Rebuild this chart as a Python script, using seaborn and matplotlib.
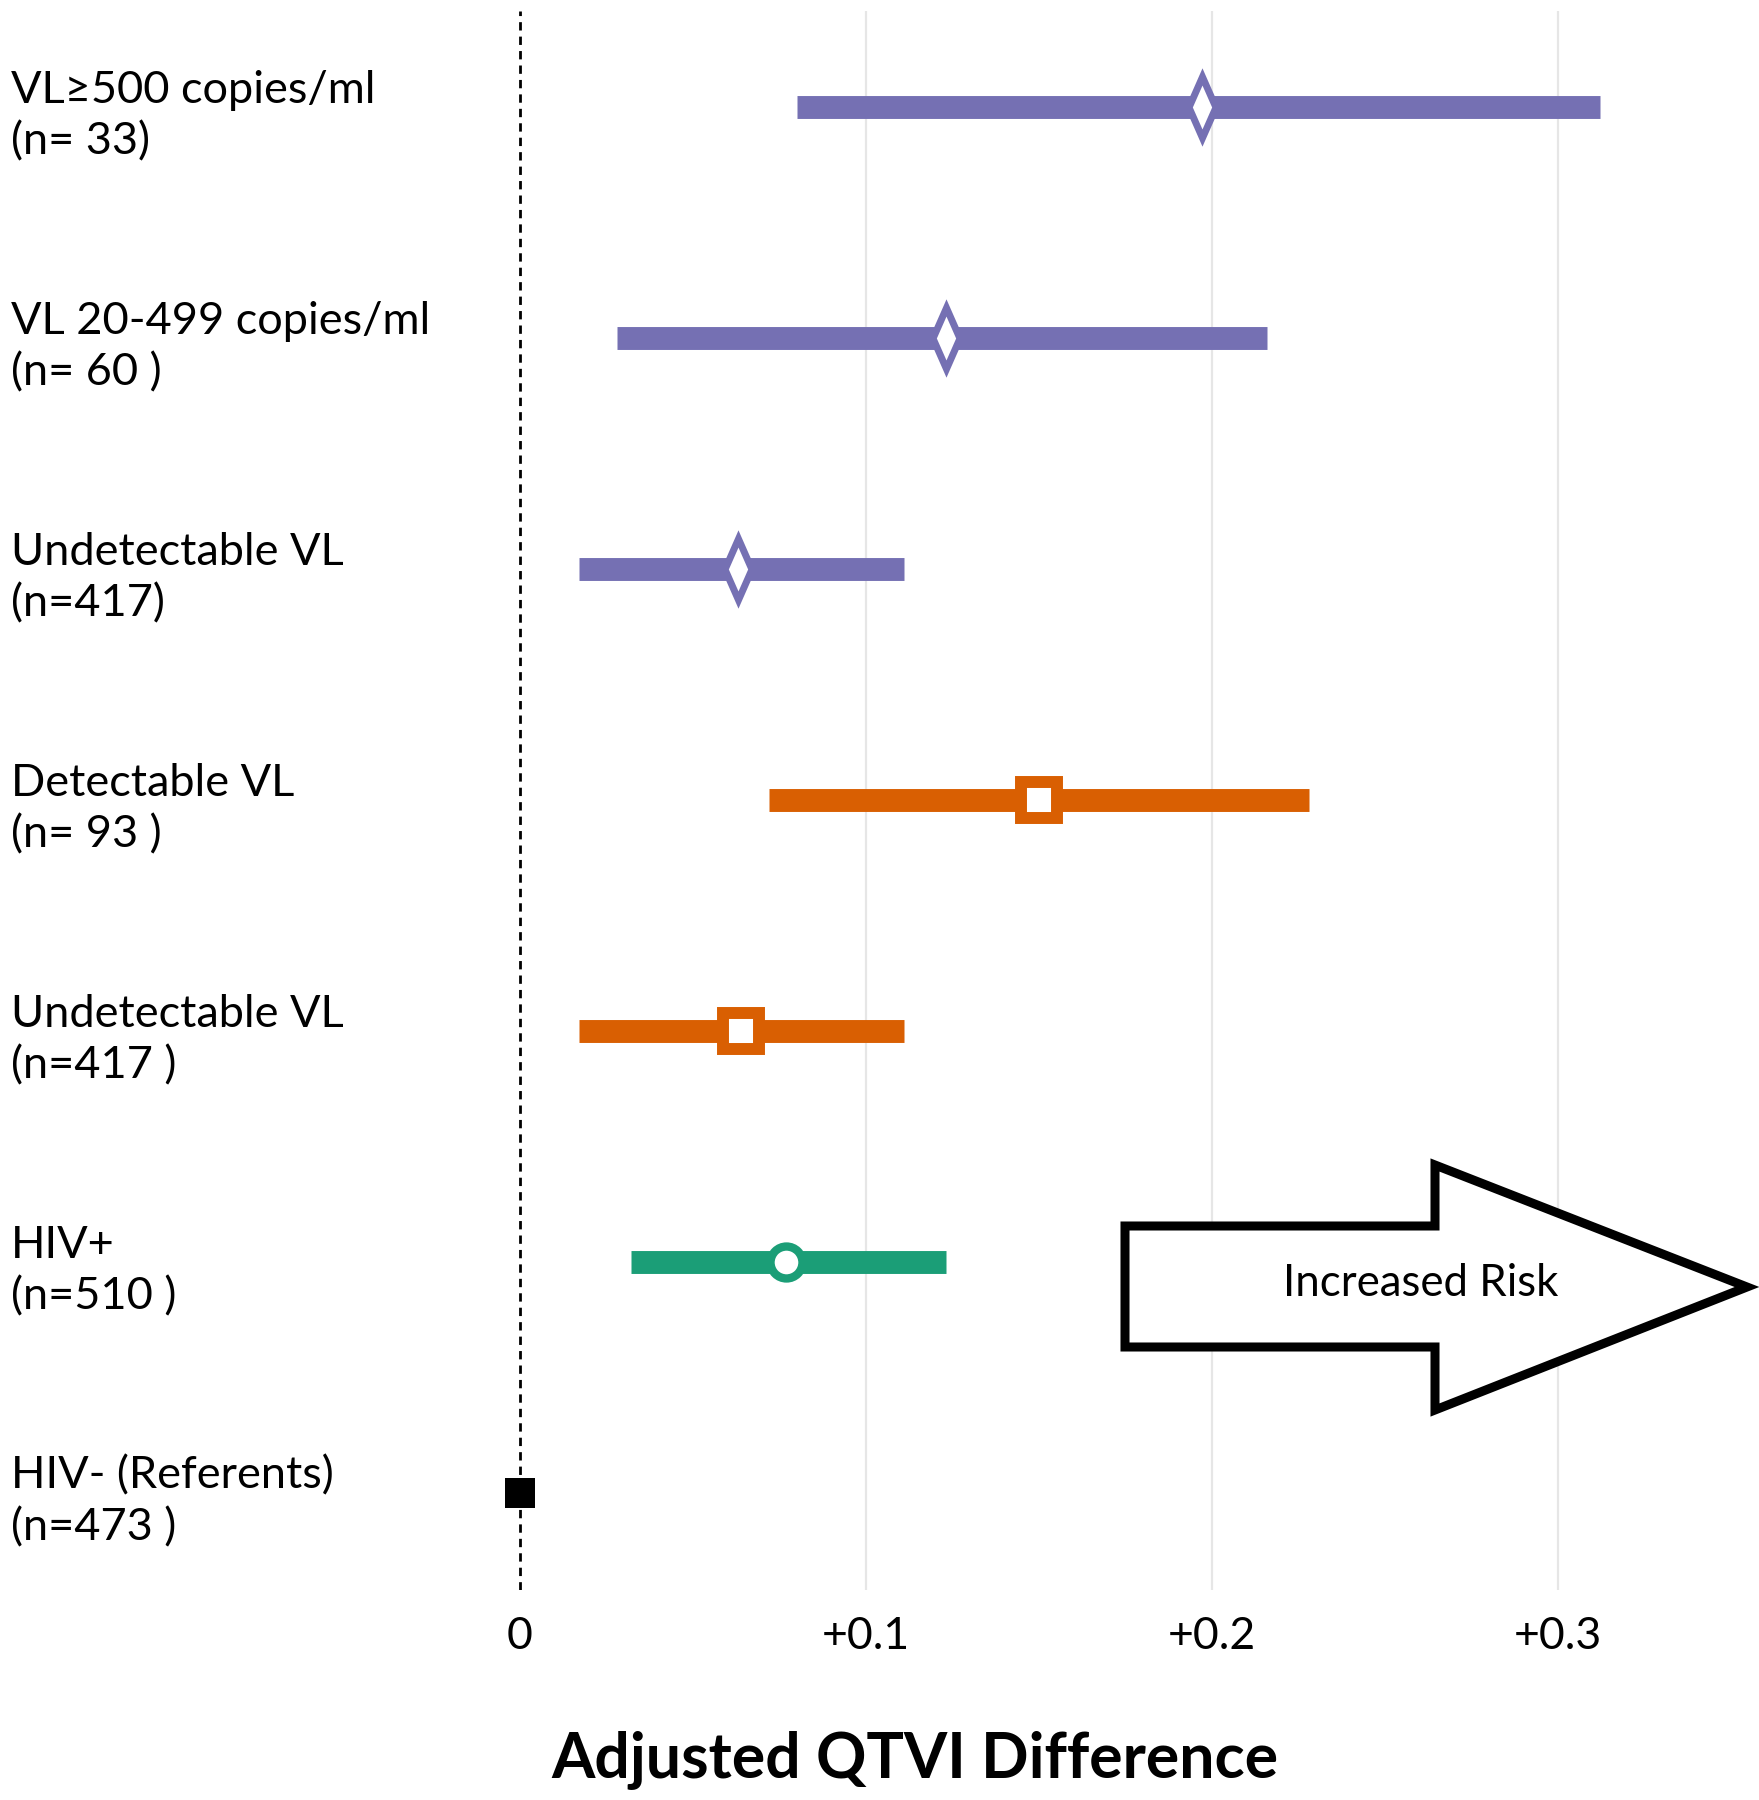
import numpy as np
import pandas as pd
import matplotlib
matplotlib.use("Agg")
import matplotlib.pyplot as plt
import seaborn as sns
from matplotlib.patches import Polygon
from matplotlib.path import Path
from matplotlib.transforms import blended_transform_factory, offset_copy

# ---------------- data ----------------
groups = [
    "VL\u2265500 copies/ml\n(n= 33)",
    "VL 20-499 copies/ml\n(n= 60 )",
    "Undetectable VL\n(n=417)",
    "Detectable VL\n(n= 93 )",
    "Undetectable VL\n(n=417 )",
    "HIV+\n(n=510 )",
    "HIV- (Referents)\n(n=473 )",
]
estimate = [0.197, 0.123, 0.063, 0.150, 0.064, 0.077, 0.0]
ci_low = [0.080, 0.028, 0.017, 0.072, 0.017, 0.032, np.nan]
ci_high = [0.312, 0.216, 0.111, 0.228, 0.111, 0.123, np.nan]
comparison = ["viral load", "viral load", "viral load",
              "detectability", "detectability", "HIV status", "referent"]
xticks = [0.0, 0.1, 0.2, 0.3]
xtick_labels = ["0", "+0.1", "+0.2", "+0.3"]
xlabel = "Adjusted QTVI Difference"
arrow_text = "Increased Risk"

df = pd.DataFrame({
    "group": groups,
    "pos": np.arange(len(groups)),
    "est": estimate,
    "lo": ci_low,
    "hi": ci_high,
    "comp": comparison,
})

# ---------------- style ----------------
sns.set_theme(style="white")
plt.rcParams["font.family"] = ["Lato", "DejaVu Sans"]

pal = sns.color_palette("Dark2")
colors = {"viral load": pal[2], "detectability": pal[1],
          "HIV status": pal[0], "referent": "black"}

W, H = 1759, 1800
fig = plt.figure(figsize=(W / 100, H / 100), dpi=100)
ax_l, ax_r, ax_t, ax_b = 400, 1759, 11, 1590
ax = fig.add_axes([ax_l / W, 1 - ax_b / H, (ax_r - ax_l) / W, (ax_b - ax_t) / H])

x0_px, unit_px = 520, 3460.0
ax.set_xlim((ax_l - x0_px) / unit_px, (ax_r - x0_px) / unit_px)
row0_px, row_px = 107, 231.0
ax.set_ylim((ax_b - row0_px) / row_px, (ax_t - row0_px) / row_px)

# gridlines & reference line
for xt in xticks[1:]:
    ax.axvline(xt, color="#e6e6e6", lw=1.6, zorder=0)
ax.axvline(0, color="black", lw=2.0, ls=(0, (3.0, 2.2)), zorder=1)

# CI bars
ci = df.dropna()
ax.hlines(ci["pos"], ci["lo"], ci["hi"],
          colors=[colors[c] for c in ci["comp"]], lw=16.5, capstyle="butt", zorder=2)

# point estimates
thin_diamond = Path([(0, 0.5), (0.22, 0), (0, -0.5), (-0.22, 0), (0, 0.5)],
                    [Path.MOVETO, Path.LINETO, Path.LINETO, Path.LINETO, Path.CLOSEPOLY])
marker_specs = {
    "viral load": dict(marker=thin_diamond, s=44 ** 2, linewidth=5.0, color="white"),
    "detectability": dict(marker="s", s=26 ** 2, linewidth=8.6, color="white"),
    "HIV status": dict(marker="o", s=23 ** 2, linewidth=6, color="white"),
    "referent": dict(marker="s", s=21.6 ** 2, linewidth=0, color="black"),
}
for comp, spec in marker_specs.items():
    sub = df[df["comp"] == comp]
    sns.scatterplot(data=sub, x="est", y="pos", ax=ax, edgecolor=colors[comp],
                    joinstyle="miter", zorder=4, legend=False, **spec)

# group labels on the left
trans = offset_copy(blended_transform_factory(fig.transFigure, ax.transData),
                    fig=fig, y=-9, units="dots")
for _, r in df.iterrows():
    ax.text(11 / W, r["pos"], r["group"], transform=trans, ha="left", va="center",
            fontsize=32.5, linespacing=1.32, color="black")

# axes decoration
ax.set_yticks([])
ax.set_ylabel("")
ax.set_xticks(xticks)
ax.set_xticklabels(xtick_labels, fontsize=32)
ax.tick_params(axis="x", length=0, pad=19, colors="black")
for sp in ax.spines.values():
    sp.set_visible(False)
ax.set_xlabel(xlabel, fontsize=45, fontweight="bold", color="black")
ax.xaxis.set_label_coords((915 - ax_l) / (ax_r - ax_l), -(1760 - ax_b) / (ax_b - ax_t))
ax.xaxis.label.set_va("center")

# "Increased Risk" arrow
def px2d(xp, yp):
    return ((xp - x0_px) / unit_px, (yp - row0_px) / row_px)

arrow_pts = [px2d(1125, 1226), px2d(1435, 1226), px2d(1435, 1165), px2d(1747, 1287),
             px2d(1435, 1410), px2d(1435, 1347), px2d(1125, 1347)]
ax.add_patch(Polygon(arrow_pts, closed=True, facecolor="white", edgecolor="black",
                     lw=6.5, joinstyle="miter", zorder=3, clip_on=False))
tx, ty = px2d(1421, 1284)
ax.text(tx, ty, arrow_text, ha="center", va="center", fontsize=31.5, color="black", zorder=5)

fig.savefig("out.png", dpi=100, facecolor="white")
